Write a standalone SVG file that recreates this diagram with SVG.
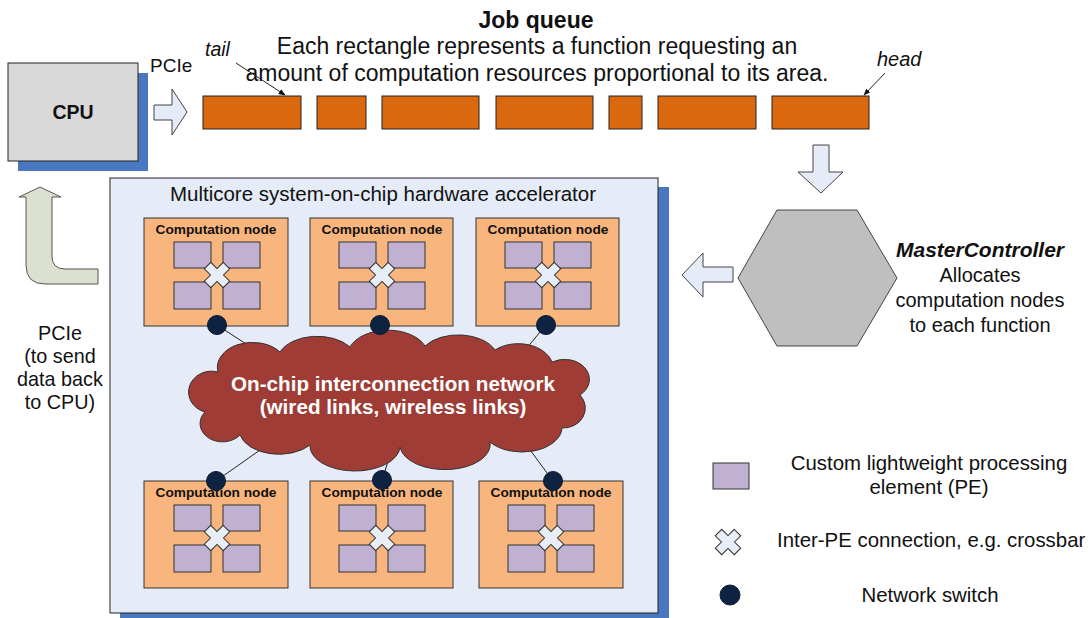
<svg xmlns="http://www.w3.org/2000/svg" width="1091" height="618" viewBox="0 0 1091 618">
<defs>
<style>
text{font-family:"Liberation Sans",Arial,sans-serif;fill:#111}
.q{fill:#D9680F;stroke:#222;stroke-width:1}
.node{fill:#F8B57D;stroke:#333;stroke-width:1}
.pe{fill:#C0B1D3;stroke:#333;stroke-width:1}
.xb{fill:#E8EEF8;stroke:#333;stroke-width:1}
.sw{fill:#0E2342;stroke:#0a1a30;stroke-width:1}
.arr{fill:#E6ECF7;stroke:#444;stroke-width:1}
.ln{stroke:#222;stroke-width:1;fill:none}
.nt{font-size:13.7px;font-weight:bold;text-anchor:middle}
.lg{font-size:20.4px}
</style>
<marker id="ah" viewBox="0 0 10 10" refX="9" refY="5" markerWidth="7" markerHeight="7" orient="auto">
<path d="M0,1 L10,5 L0,9 Z" fill="#111"/>
</marker>
<path id="cross" d="M-4.6,-13.4 L4.6,-13.4 L4.6,-4.6 L13.4,-4.6 L13.4,4.6 L4.6,4.6 L4.6,13.4 L-4.6,13.4 L-4.6,4.6 L-13.4,4.6 L-13.4,-4.6 L-4.6,-4.6 Z" transform="rotate(45)"/>
<g id="pes">
<rect class="pe" x="30" y="0" width="37" height="26"/>
<rect class="pe" x="79" y="0" width="37" height="26"/>
<rect class="pe" x="30" y="40" width="37" height="27"/>
<rect class="pe" x="79" y="40" width="37" height="27"/>
<use href="#cross" class="xb" x="73" y="33"/>
</g>
</defs>

<g id="cpu">
<rect x="18" y="73" width="130" height="98" fill="#4A78C0"/>
<rect x="8" y="63" width="130" height="98" fill="#D9D9D9" stroke="#222" stroke-width="1"/>
<text x="73" y="119" font-size="19.5" font-weight="bold" text-anchor="middle">CPU</text>
</g>

<g id="pcie-in">
<text x="150" y="72" font-size="19">PCIe</text>
<path class="arr" d="M154,105 L172,105 L172,89 L187,112 L172,135 L172,120 L154,120 Z"/>
</g>

<g id="job-queue">
<text x="536" y="28" font-size="23" font-weight="bold" text-anchor="middle">Job queue</text>
<text x="537" y="54" font-size="23" text-anchor="middle">Each rectangle represents a function requesting an</text>
<text x="537" y="81" font-size="23" text-anchor="middle">amount of computation resources proportional to its area.</text>
<rect class="q" x="203" y="96" width="98" height="33"/>
<rect class="q" x="317" y="96" width="49" height="33"/>
<rect class="q" x="382" y="96" width="97" height="33"/>
<rect class="q" x="496" y="96" width="97" height="33"/>
<rect class="q" x="609" y="96" width="33" height="33"/>
<rect class="q" x="658" y="96" width="98" height="33"/>
<rect class="q" x="772" y="96" width="97" height="33"/>
<text x="205" y="56" font-size="19.5" font-style="italic">tail</text>
<text x="877" y="66" font-size="20" font-style="italic">head</text>
</g>

<g id="mid-arrows">
<path class="arr" d="M813,145 L829,145 L829,172 L843,172 L821,193 L798,172 L813,172 Z"/>
<path class="arr" d="M733,267 L703,267 L703,253 L682,275 L703,297 L703,282 L733,282 Z"/>
</g>

<g id="master-controller">
<polygon points="777,210 857,210 897,278 857,346 777,346 738,278" fill="#BFBFBF" stroke="#444" stroke-width="1"/>
<text x="980" y="257" font-size="21" font-weight="bold" font-style="italic" text-anchor="middle">MasterController</text>
<text x="980" y="282" font-size="20" text-anchor="middle">Allocates</text>
<text x="980" y="307" font-size="20" text-anchor="middle">computation nodes</text>
<text x="980" y="332" font-size="20" text-anchor="middle">to each function</text>
</g>

<g id="pcie-back">
<path d="M26,197 L19,197 L40,187 L61,197 L52,197 L52,256 Q52,269 65,269 L98,269 L98,284 L45,284 Q26,284 26,265 Z" fill="#DCE0CF" stroke="#555" stroke-width="1"/>
<text x="60" y="340" font-size="19.8" text-anchor="middle">PCIe</text>
<text x="60" y="363" font-size="19.8" text-anchor="middle">(to send</text>
<text x="60" y="386" font-size="19.8" text-anchor="middle">data back</text>
<text x="60" y="409" font-size="19.8" text-anchor="middle">to CPU)</text>
</g>

<g id="accelerator">
<rect x="120" y="187" width="549" height="435" fill="#4A78C0"/>
<rect x="110" y="178" width="548" height="435" fill="#E6ECF7" stroke="#222" stroke-width="1"/>
<text x="383" y="201" font-size="20.5" text-anchor="middle">Multicore system-on-chip hardware accelerator</text>
</g>

<g id="connectors">
<line class="ln" x1="236" y1="63" x2="285" y2="95" marker-end="url(#ah)"/>
<line class="ln" x1="885" y1="73" x2="864" y2="95" marker-end="url(#ah)"/>
<line class="ln" x1="217" y1="325" x2="263" y2="355"/>
<line class="ln" x1="380" y1="325" x2="393" y2="347"/>
<line class="ln" x1="546" y1="325" x2="520" y2="356"/>
<line class="ln" x1="216" y1="481" x2="270" y2="443"/>
<line class="ln" x1="382" y1="480" x2="393" y2="446"/>
<line class="ln" x1="553" y1="481" x2="519" y2="435"/>
</g>

<g id="network">
<path d="M205,412 A22,20 0 0 1 218,372 A35,25 0 0 1 280,352 A40,25 0 0 1 350,347 A40,25 0 0 1 425,346 A40,25 0 0 1 495,350 A35,25 0 0 1 552,362 A25,20 0 0 1 580,395 A22,20 0 0 1 562,428 A40,25 0 0 1 490,442 A45,25 0 0 1 400,447 A45,25 0 0 1 310,445 A40,25 0 0 1 240,435 A22,18 0 0 1 205,412 Z" fill="#9E3C35" stroke="#333" stroke-width="1"/>
<text x="393" y="391" font-size="20.7" font-weight="bold" text-anchor="middle" style="fill:#fff">On-chip interconnection network</text>
<text x="393" y="414" font-size="20.7" font-weight="bold" text-anchor="middle" style="fill:#fff">(wired links, wireless links)</text>
</g>

<g id="node-t1">
<rect class="node" x="144" y="218" width="144" height="108"/>
<text class="nt" x="216" y="234">Computation node</text>
<use href="#pes" x="144" y="242"/>
<circle class="sw" cx="217" cy="325" r="9.5"/>
</g>
<g id="node-t2">
<rect class="node" x="310" y="218" width="143" height="108"/>
<text class="nt" x="382" y="234">Computation node</text>
<use href="#pes" x="309" y="242"/>
<circle class="sw" cx="380" cy="325" r="9.5"/>
</g>
<g id="node-t3">
<rect class="node" x="476" y="218" width="143" height="108"/>
<text class="nt" x="548" y="234">Computation node</text>
<use href="#pes" x="475" y="242"/>
<circle class="sw" cx="546" cy="325" r="9.5"/>
</g>
<g id="node-b1">
<rect class="node" x="144" y="481" width="144" height="107"/>
<text class="nt" x="216" y="497">Computation node</text>
<use href="#pes" x="144" y="505"/>
<circle class="sw" cx="216" cy="481" r="9.5"/>
</g>
<g id="node-b2">
<rect class="node" x="310" y="481" width="143" height="107"/>
<text class="nt" x="382" y="497">Computation node</text>
<use href="#pes" x="309" y="505"/>
<circle class="sw" cx="382" cy="480" r="9.5"/>
</g>
<g id="node-b3">
<rect class="node" x="479" y="481" width="144" height="107"/>
<text class="nt" x="551" y="497">Computation node</text>
<use href="#pes" x="478" y="505"/>
<circle class="sw" cx="553" cy="481" r="9.5"/>
</g>

<g id="legend">
<rect class="pe" x="713" y="463" width="36" height="26"/>
<text class="lg" x="929" y="470" text-anchor="middle">Custom lightweight processing</text>
<text class="lg" x="929" y="494" text-anchor="middle">element (PE)</text>
<use href="#cross" class="xb" x="728" y="542"/>
<text class="lg" x="777" y="547">Inter-PE connection, e.g. crossbar</text>
<circle class="sw" cx="730" cy="595" r="10"/>
<text class="lg" x="930" y="602" text-anchor="middle">Network switch</text>
</g>
</svg>
